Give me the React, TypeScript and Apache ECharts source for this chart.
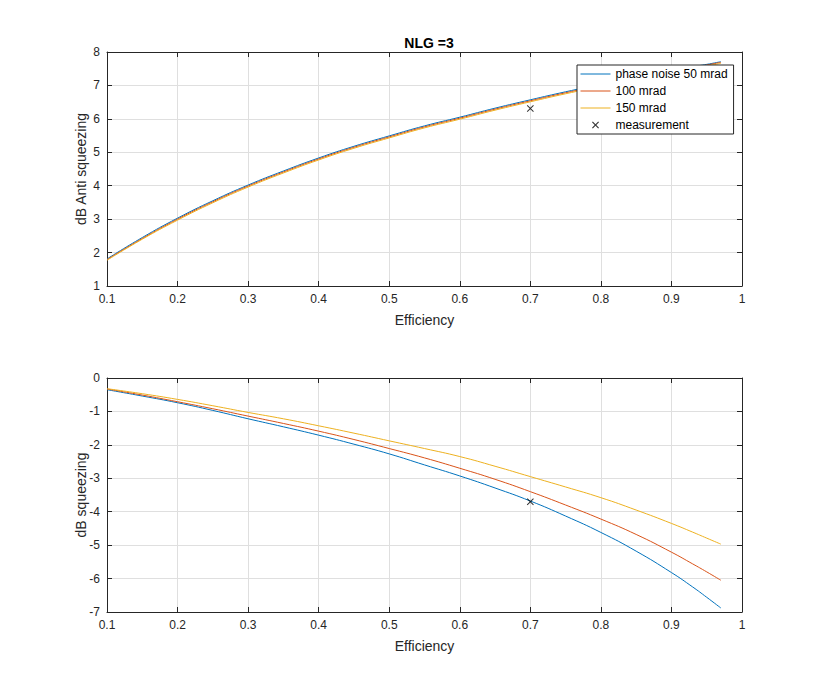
import { useEffect, useRef } from 'react';
import * as echarts from 'echarts';

const efficiency = [0.1, 0.15, 0.2, 0.25, 0.3, 0.35, 0.4, 0.45, 0.5, 0.55, 0.6, 0.65, 0.7, 0.75, 0.8, 0.85, 0.9, 0.93, 0.95, 0.97];

const antiSq50 = [1.81, 2.45, 3.03, 3.55, 4.02, 4.44, 4.83, 5.18, 5.49, 5.79, 6.05, 6.32, 6.57, 6.81, 7.03, 7.24, 7.44, 7.56, 7.63, 7.71];
const antiSq100 = [1.79, 2.42, 3.0, 3.52, 3.99, 4.41, 4.8, 5.15, 5.46, 5.76, 6.02, 6.29, 6.54, 6.78, 7.0, 7.21, 7.41, 7.53, 7.61, 7.69];
const antiSq150 = [1.77, 2.4, 2.97, 3.49, 3.96, 4.38, 4.77, 5.12, 5.43, 5.73, 5.99, 6.26, 6.51, 6.75, 6.97, 7.18, 7.38, 7.5, 7.58, 7.66];

const sq50 = [-0.35, -0.54, -0.74, -0.97, -1.22, -1.46, -1.71, -1.98, -2.27, -2.6, -2.93, -3.29, -3.68, -4.13, -4.62, -5.18, -5.82, -6.25, -6.56, -6.88];
const sq100 = [-0.33, -0.51, -0.71, -0.92, -1.14, -1.36, -1.59, -1.84, -2.11, -2.39, -2.7, -3.03, -3.4, -3.8, -4.22, -4.68, -5.21, -5.56, -5.8, -6.05];
const sq150 = [-0.32, -0.47, -0.64, -0.83, -1.03, -1.22, -1.43, -1.65, -1.88, -2.11, -2.35, -2.64, -2.95, -3.26, -3.58, -3.95, -4.35, -4.61, -4.79, -4.97];

const measurementAnti = [[0.7, 6.31]];
const measurementSq = [[0.7, -3.7]];

const seriesNames = ['phase noise 50 mrad', '100 mrad', '150 mrad', 'measurement'];
const colors = ['#0072BD', '#D95319', '#EDB120'];

const FONT = '"Liberation Sans", Arial, sans-serif';
const AXIS = '#262626';
const CROSS = 'path://M0,1L1,0L5,4L9,0L10,1L6,5L10,9L9,10L5,6L1,10L0,9L4,5Z';
// same cross, padded so it stays small inside the 12px legend box
const CROSS_LEGEND = 'path://M0,0M12,12M2.5,3.3L3.3,2.5L6,5.2L8.7,2.5L9.5,3.3L6.8,6L9.5,8.7L8.7,9.5L6,6.8L3.3,9.5L2.5,8.7L5.2,6Z';

const pairs = (ys: number[]) => efficiency.map((x, i) => [x, ys[i]]);

function xAxes(gridIndex: number) {
  const base = {
    gridIndex,
    type: 'value',
    min: 0.1,
    max: 1,
    interval: 0.1,
    axisLine: { show: true, onZero: false, lineStyle: { color: AXIS, width: 1 } },
    axisTick: { show: true, inside: true, length: 5, lineStyle: { color: AXIS } },
  };
  return [
    {
      ...base,
      position: 'bottom',
      name: 'Efficiency',
      nameLocation: 'middle',
      nameGap: 27,
      nameMoveOverlap: false,
      nameTextStyle: { color: AXIS, fontSize: 14, fontFamily: FONT },
      axisLabel: {
        color: AXIS,
        fontSize: 12,
        fontFamily: FONT,
        margin: 7,
        formatter: (v: number) => String(Math.round(v * 10) / 10),
      },
      splitLine: { show: true, lineStyle: { color: '#dfdfdf', width: 1 } },
    },
    {
      ...base,
      position: 'top',
      axisLabel: { show: false },
      splitLine: { show: false },
    },
  ];
}

function yAxes(gridIndex: number, min: number, max: number, name: string) {
  const base = {
    gridIndex,
    type: 'value',
    min,
    max,
    interval: 1,
    axisLine: { show: true, onZero: false, lineStyle: { color: AXIS, width: 1 } },
    axisTick: { show: true, inside: true, length: 5, lineStyle: { color: AXIS } },
  };
  return [
    {
      ...base,
      position: 'left',
      name,
      nameLocation: 'middle',
      nameGap: 19,
      nameMoveOverlap: false,
      nameTextStyle: { color: AXIS, fontSize: 14, fontFamily: FONT },
      axisLabel: { color: AXIS, fontSize: 12, fontFamily: FONT, margin: 7 },
      splitLine: { show: true, lineStyle: { color: '#dfdfdf', width: 1 } },
    },
    {
      ...base,
      position: 'right',
      axisLabel: { show: false },
      splitLine: { show: false },
    },
  ];
}

function lineSeries(name: string, ys: number[], color: string, axisIdx: number) {
  return {
    name,
    type: 'line',
    xAxisIndex: axisIdx,
    yAxisIndex: axisIdx,
    data: pairs(ys),
    symbol: 'none',
    smooth: true,
    lineStyle: { color, width: 1 },
    itemStyle: { color },
  };
}

function markSeries(data: number[][], axisIdx: number) {
  return {
    name: 'measurement',
    type: 'scatter',
    xAxisIndex: axisIdx,
    yAxisIndex: axisIdx,
    data,
    symbol: CROSS,
    symbolSize: 7,
    itemStyle: { color: '#000' },
    z: 5,
  };
}

export default function App() {
  const ref = useRef<HTMLDivElement>(null);

  useEffect(() => {
    if (!ref.current) return;
    const chart = echarts.init(ref.current, undefined, { renderer: 'svg' });
    chart.setOption({
      animation: false,
      backgroundColor: '#fff',
      title: {
        text: 'NLG =3',
        left: 424,
        top: 31,
        textAlign: 'center',
        textStyle: { fontSize: 14, fontWeight: 'bold', color: '#000', fontFamily: FONT },
      },
      legend: {
        orient: 'vertical',
        left: 577,
        top: 65,
        padding: [3, 6, 3, 3],
        itemWidth: 30,
        itemHeight: 12,
        itemGap: 5,
        backgroundColor: '#fff',
        borderColor: AXIS,
        borderWidth: 1,
        borderRadius: 0,
        lineStyle: { width: 1 },
        data: [
          { name: seriesNames[0], itemStyle: { opacity: 0 }, lineStyle: { width: 1 } },
          { name: seriesNames[1], itemStyle: { opacity: 0 }, lineStyle: { width: 1 } },
          { name: seriesNames[2], itemStyle: { opacity: 0 }, lineStyle: { width: 1 } },
          { name: seriesNames[3], icon: CROSS_LEGEND, itemStyle: { color: '#000' } },
        ],
        textStyle: { color: '#000', fontSize: 12, fontFamily: FONT },
      },
      grid: [
        { left: 107, right: 80, top: 52, height: 234 },
        { left: 107, right: 80, top: 378, height: 234 },
      ],
      xAxis: [...xAxes(0), ...xAxes(1)],
      yAxis: [...yAxes(0, 1, 8, 'dB Anti squeezing'), ...yAxes(1, -7, 0, 'dB squeezing')],
      series: [
        lineSeries(seriesNames[0], antiSq50, colors[0], 0),
        lineSeries(seriesNames[1], antiSq100, colors[1], 0),
        lineSeries(seriesNames[2], antiSq150, colors[2], 0),
        markSeries(measurementAnti, 0),
        lineSeries(seriesNames[0], sq50, colors[0], 2),
        lineSeries(seriesNames[1], sq100, colors[1], 2),
        lineSeries(seriesNames[2], sq150, colors[2], 2),
        markSeries(measurementSq, 2),
      ],
    });
    return () => chart.dispose();
  }, []);

  return (
    <div
      ref={ref}
      style={{ position: 'fixed', left: 0, top: 0, width: 822, height: 688, background: '#fff' }}
    />
  );
}
